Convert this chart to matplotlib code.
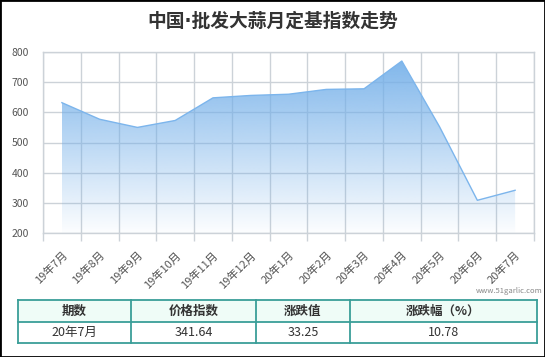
import numpy as np
import matplotlib.pyplot as plt
from matplotlib.patches import Rectangle, Polygon

plt.rcParams['font.family'] = ['Noto Sans CJK SC', 'DejaVu Sans']

# chart data
months = ['19年7月', '19年8月', '19年9月', '19年10月', '19年11月', '19年12月',
          '20年1月', '20年2月', '20年3月', '20年4月', '20年5月', '20年6月', '20年7月']
index_vals = [632, 577, 550, 573, 648, 656, 660, 676, 678, 770, 552, 308.39, 341.64]
yticks = [200, 300, 400, 500, 600, 700, 800]

# summary table
table_head = ['期数', '价格指数', '涨跌值', '涨跌幅（%）']
table_row = ['20年7月', '341.64', '33.25', '10.78']

W, H = 545, 357
grid_c = '#ccd2d8'
text_c = '#555555'
base = np.array([115, 175, 233]) / 255

fig = plt.figure(figsize=(W / 100, H / 100), dpi=100)
ax = fig.add_axes([43 / W, 1 - 233 / H, 491 / W, 181 / H])

x = np.arange(len(months))

# gradient area under the line
top = max(index_vals)
grad = np.linspace(0, 1, 256).reshape(-1, 1)
rgba = np.zeros((256, 1, 4))
rgba[..., :3] = base
rgba[..., 3] = 0.02 + 0.88 * grad
im = ax.imshow(rgba, extent=[x[0], x[-1], yticks[0], top], origin='lower',
               aspect='auto', zorder=2, interpolation='bilinear')
verts = list(zip(x, index_vals)) + [(x[-1], yticks[0]), (x[0], yticks[0])]
patch = Polygon(verts, closed=True, facecolor='none', edgecolor='none')
ax.add_patch(patch)
im.set_clip_path(patch)
ax.plot(x, index_vals, color='#7cb5ec', lw=1, zorder=3)
ax.set_xlim(-0.5, len(months) - 0.5)
ax.set_ylim(yticks[0], yticks[-1])

# axes, ticks, grid
ax.set_xticks(np.arange(len(months) + 1) - 0.5)
ax.set_xticklabels([])
ax.set_xticks(x, minor=True)
ax.set_xticklabels(months, minor=True, rotation=45, ha='right', va='top',
                   rotation_mode='anchor', fontsize=8, color=text_c)
ax.tick_params(axis='x', which='major', length=6, color=grid_c, width=1)
ax.tick_params(axis='x', which='minor', length=0, pad=12)
ax.set_yticks(yticks)
ax.set_yticklabels([str(v) for v in yticks], fontsize=7.5, color=text_c)
ax.tick_params(axis='y', length=0, pad=10)
ax.grid(True, which='major', color=grid_c, lw=1, zorder=1)
ax.set_axisbelow(True)
for s in ax.spines.values():
    s.set_color(grid_c)
    s.set_linewidth(1)

# title and watermark (DejaVu first so the middle dot stays narrow)
fig.text(0.5, 1 - 21.5 / H, '中国·批发大蒜月定基指数走势', ha='center', va='center',
         fontsize=13.5, fontweight='bold', color='#333333',
         family=['DejaVu Sans', 'Noto Sans CJK SC'])
fig.text(543 / W, 1 - 291 / H, 'www.51garlic.com', ha='right', va='center',
         fontsize=5.5, color='#888888')

# table drawn in pixel coordinates
col_edges = [18, 131, 256, 350, 537]
row_edges = [300, 322, 343]
border_c = '#3a9e98'
fig.patches.append(Rectangle((col_edges[0] / W, 1 - row_edges[1] / H),
                             (col_edges[-1] - col_edges[0]) / W,
                             (row_edges[1] - row_edges[0]) / H,
                             transform=fig.transFigure, facecolor='#effcf7',
                             edgecolor='none'))
for ry in row_edges:
    fig.add_artist(plt.Line2D([col_edges[0] / W, col_edges[-1] / W], [1 - ry / H] * 2,
                              transform=fig.transFigure, color=border_c, lw=1.3))
for cx in col_edges:
    fig.add_artist(plt.Line2D([cx / W] * 2, [1 - row_edges[0] / H, 1 - row_edges[-1] / H],
                              transform=fig.transFigure, color=border_c, lw=1.3))
for i in range(len(table_head)):
    cx = (col_edges[i] + col_edges[i + 1]) / 2 / W
    fig.text(cx, 1 - (row_edges[0] + row_edges[1]) / 2 / H, table_head[i],
             ha='center', va='center', fontsize=9, fontweight='bold', color='#333333')
    fig.text(cx, 1 - (row_edges[1] + row_edges[2]) / 2 / H, table_row[i],
             ha='center', va='center', fontsize=9, color='#333333')

# outer frame
fig.patches.append(Rectangle((0, 0), 1, 1, transform=fig.transFigure, fill=False,
                             edgecolor='black', lw=2))

fig.savefig('out.png', dpi=100)
